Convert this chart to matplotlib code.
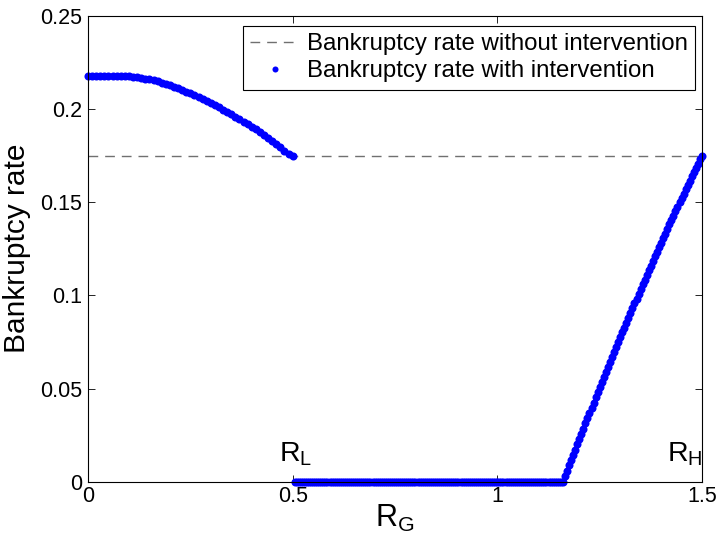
import numpy as np
import matplotlib
matplotlib.use("Agg")
import matplotlib.pyplot as plt

plt.rcParams['font.family'] = ['Liberation Sans', 'DejaVu Sans']
plt.rcParams['mathtext.fontset'] = 'custom'
plt.rcParams['mathtext.rm'] = 'Liberation Sans'
plt.rcParams['mathtext.it'] = 'Liberation Sans'

# bankruptcy rate without intervention
no_intervention = 0.1748

# with intervention, R_G in [0, 0.5]
rg_low = np.linspace(0.0, 0.5, 51)
rate_low = [0.2178, 0.2178, 0.2178, 0.2178, 0.2178, 0.2178, 0.2178, 0.2177, 0.2177, 0.2176,
            0.2175, 0.2173, 0.2170, 0.2166, 0.2163, 0.2158, 0.2153, 0.2148, 0.2141, 0.2134,
            0.2126, 0.2118, 0.2110, 0.2101, 0.2092, 0.2083, 0.2073, 0.2063, 0.2052, 0.2041,
            0.2030, 0.2019, 0.2008, 0.1996, 0.1984, 0.1971, 0.1958, 0.1945, 0.1932, 0.1918,
            0.1904, 0.1890, 0.1875, 0.1859, 0.1843, 0.1827, 0.1810, 0.1793, 0.1776, 0.1759,
            0.1748]

# R_G in (0.5, 1.16): no bankruptcy
rg_mid = np.linspace(0.505, 1.155, 131)
rate_mid = [0.0] * 131

# R_G in [1.16, 1.5]
rg_high = np.linspace(1.16, 1.5, 69)
rate_high = [0.0, 0.0029, 0.0058, 0.0087, 0.0115, 0.0144, 0.0172, 0.0201, 0.0229, 0.0257,
             0.0285, 0.0313, 0.0341, 0.0369, 0.0397, 0.0424, 0.0452, 0.0479, 0.0507, 0.0534,
             0.0561, 0.0588, 0.0615, 0.0642, 0.0669, 0.0695, 0.0722, 0.0748, 0.0775, 0.0801,
             0.0827, 0.0853, 0.0879, 0.0905, 0.0931, 0.0957, 0.0982, 0.1008, 0.1033, 0.1059,
             0.1084, 0.1109, 0.1134, 0.1159, 0.1184, 0.1209, 0.1233, 0.1258, 0.1283, 0.1307,
             0.1331, 0.1355, 0.1380, 0.1404, 0.1427, 0.1451, 0.1475, 0.1499, 0.1522, 0.1546,
             0.1569, 0.1592, 0.1615, 0.1638, 0.1661, 0.1684, 0.1707, 0.1729, 0.1748]

x_ticks = [0, 0.5, 1, 1.5]
x_tick_labels = ['0', '0.5', '1', '1.5']
y_ticks = [0, 0.05, 0.1, 0.15, 0.2, 0.25]
y_tick_labels = ['0', '0.05', '0.1', '0.15', '0.2', '0.25']

fig = plt.figure(figsize=(7.19, 5.41), dpi=100)
ax = fig.add_axes([0.1224, 0.1096, 0.854, 0.8614])

ax.axhline(no_intervention, color='#707070', linestyle=(0, (7, 5)), linewidth=1.0,
           label='Bankruptcy rate without intervention')

rg = np.concatenate([rg_low, rg_mid, rg_high])
rate = np.concatenate([rate_low, rate_mid, rate_high])
ax.plot(rg, rate, linestyle='none', marker='o', markersize=5.8, color='#0000ff',
        markeredgewidth=0, label='Bankruptcy rate with intervention', clip_on=False)

ax.set_xlim(0, 1.5)
ax.set_ylim(0, 0.25)
ax.set_xticks(x_ticks)
ax.set_xticklabels(x_tick_labels)
ax.set_yticks(y_ticks)
ax.set_yticklabels(y_tick_labels)
ax.tick_params(direction='in', length=5, width=0.6, labelsize=15.5, top=True, right=True, pad=4)
ax.tick_params(axis='x', pad=3)
for sp in ax.spines.values():
    sp.set_linewidth(0.8)

ax.set_xlabel(r'$\mathrm{R_G}$', fontsize=22, labelpad=-3)
ax.set_ylabel('Bankruptcy rate', fontsize=21.5, labelpad=7)

ax.text(0.4667, 0.0107, r'$\mathrm{R_L}$', fontsize=20.5, ha='left', va='baseline')
ax.text(1.4146, 0.0107, r'$\mathrm{R_H}$', fontsize=20.5, ha='left', va='baseline')

leg = ax.legend(loc='upper right', bbox_to_anchor=(695 / 719, 1 - 26 / 541),
                bbox_transform=fig.transFigure, borderaxespad=0,
                fontsize=17.3, fancybox=False, edgecolor='black', framealpha=1,
                handlelength=2.1, handletextpad=0.28, borderpad=0.3, labelspacing=0.22,
                markerscale=0.75)
leg.get_frame().set_linewidth(0.8)

fig.savefig('out.png', dpi=100)
